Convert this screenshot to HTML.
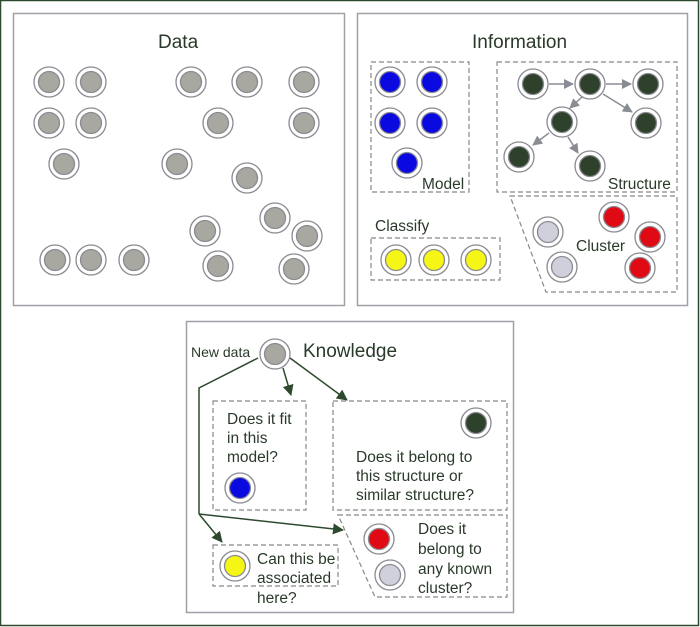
<!DOCTYPE html>
<html><head><meta charset="utf-8"><style>
html,body{margin:0;padding:0;background:#fff;}
svg{display:block;font-family:"Liberation Sans",sans-serif;}
</style></head><body>
<svg width="700" height="627" viewBox="0 0 700 627" xmlns="http://www.w3.org/2000/svg">
<defs>
<marker id="ag" markerWidth="10" markerHeight="10" refX="9" refY="5" orient="auto" markerUnits="userSpaceOnUse"><path d="M0,0 L10,5 L0,10 z" fill="#8a8c94"/></marker>
<marker id="ad" markerWidth="11" markerHeight="11" refX="10" refY="5.5" orient="auto" markerUnits="userSpaceOnUse"><path d="M0,0 L11,5.5 L0,11 z" fill="#2e4a2e"/></marker>
</defs>
<rect x="0.5" y="0.5" width="698" height="625" fill="#fff" stroke="#2e4a2e" stroke-width="1.5"/>
<g fill="#fff" stroke="#a0a0a8" stroke-width="1.5">
<rect x="13.5" y="13.5" width="331" height="292"/>
<rect x="357.5" y="13.5" width="330" height="292"/>
<rect x="186.5" y="321.5" width="327" height="291"/>
</g>
<g fill="#2a3a2a" font-size="19">
<text x="158" y="48">Data</text>
<text x="472" y="48">Information</text>
<text x="303" y="357">Knowledge</text>
</g>
<g fill="none" stroke="#888" stroke-width="1.2" stroke-dasharray="5,3">
<rect x="371" y="62" width="98" height="130"/>
<rect x="497" y="62" width="180" height="130"/>
<path d="M510,196 L677,196 L677,292 L546,292 Z"/>
<rect x="371" y="238" width="129" height="42"/>
<rect x="213" y="401" width="93" height="109"/>
<rect x="333" y="401" width="174" height="109"/>
<path d="M338,515 L507,515 L507,597 L375,597 Z"/>
<rect x="213" y="545" width="125" height="41"/>
</g>
<g stroke="#8a8c94" stroke-width="1.5" fill="none">
<line x1="549" y1="84" x2="573" y2="84" marker-end="url(#ag)"/>
<line x1="606" y1="84" x2="631" y2="84" marker-end="url(#ag)"/>
<line x1="603" y1="94" x2="632" y2="112" marker-end="url(#ag)"/>
<line x1="582" y1="97" x2="570" y2="108" marker-end="url(#ag)"/>
<line x1="549" y1="133" x2="533" y2="145" marker-end="url(#ag)"/>
<line x1="568" y1="137" x2="578" y2="153" marker-end="url(#ag)"/>
</g>
<g stroke="#2e4a2e" stroke-width="1.5" fill="none">
<polyline points="258,358 199,388 199,514"/>
<line x1="199" y1="514" x2="222" y2="542" marker-end="url(#ad)"/>
<line x1="199" y1="514" x2="343" y2="530" marker-end="url(#ad)"/>
<line x1="283" y1="368" x2="291" y2="395" marker-end="url(#ad)"/>
<line x1="290" y1="358" x2="347" y2="400" marker-end="url(#ad)"/>
</g>
<g stroke="#8a8a92" stroke-width="1.3">
<g fill="#fff">
<circle cx="49" cy="82" r="15"/><circle cx="91" cy="82" r="15"/><circle cx="49" cy="123" r="15"/><circle cx="91" cy="123" r="15"/><circle cx="64" cy="164" r="15"/><circle cx="191" cy="82" r="15"/><circle cx="247" cy="82" r="15"/><circle cx="304" cy="82" r="15"/><circle cx="218" cy="123" r="15"/><circle cx="304" cy="123" r="15"/><circle cx="177" cy="164" r="15"/><circle cx="247" cy="178" r="15"/><circle cx="275" cy="218" r="15"/><circle cx="307" cy="236" r="15"/><circle cx="205" cy="231" r="15"/><circle cx="218" cy="266" r="15"/><circle cx="294" cy="269" r="15"/><circle cx="55" cy="260" r="15"/><circle cx="91" cy="260" r="15"/><circle cx="134" cy="260" r="15"/><circle cx="275" cy="354" r="15"/>
</g>
<g fill="#a8a8a0">
<circle cx="49" cy="82" r="10.5"/><circle cx="91" cy="82" r="10.5"/><circle cx="49" cy="123" r="10.5"/><circle cx="91" cy="123" r="10.5"/><circle cx="64" cy="164" r="10.5"/><circle cx="191" cy="82" r="10.5"/><circle cx="247" cy="82" r="10.5"/><circle cx="304" cy="82" r="10.5"/><circle cx="218" cy="123" r="10.5"/><circle cx="304" cy="123" r="10.5"/><circle cx="177" cy="164" r="10.5"/><circle cx="247" cy="178" r="10.5"/><circle cx="275" cy="218" r="10.5"/><circle cx="307" cy="236" r="10.5"/><circle cx="205" cy="231" r="10.5"/><circle cx="218" cy="266" r="10.5"/><circle cx="294" cy="269" r="10.5"/><circle cx="55" cy="260" r="10.5"/><circle cx="91" cy="260" r="10.5"/><circle cx="134" cy="260" r="10.5"/><circle cx="275" cy="354" r="10.5"/>
</g>
<g fill="#fff">
<circle cx="390" cy="82" r="15"/><circle cx="432" cy="82" r="15"/><circle cx="390" cy="123" r="15"/><circle cx="432" cy="123" r="15"/><circle cx="407" cy="163" r="15"/><circle cx="240" cy="488" r="15"/>
<circle cx="533" cy="84" r="15"/><circle cx="590" cy="84" r="15"/><circle cx="648" cy="84" r="15"/><circle cx="562" cy="122" r="15"/><circle cx="646" cy="123" r="15"/><circle cx="519" cy="157" r="15"/><circle cx="590" cy="166" r="15"/><circle cx="476" cy="423" r="15"/>
<circle cx="548" cy="232" r="15"/><circle cx="562" cy="267" r="15"/><circle cx="390" cy="575" r="15"/>
<circle cx="614" cy="217" r="15"/><circle cx="650" cy="237" r="15"/><circle cx="640" cy="268" r="15"/><circle cx="379" cy="539" r="15"/>
<circle cx="396" cy="260" r="15"/><circle cx="434" cy="260" r="15"/><circle cx="476" cy="260" r="15"/><circle cx="235" cy="566" r="15"/>
</g>
<g fill="#0a0ae0">
<circle cx="390" cy="82" r="10.5"/><circle cx="432" cy="82" r="10.5"/><circle cx="390" cy="123" r="10.5"/><circle cx="432" cy="123" r="10.5"/><circle cx="407" cy="163" r="10.5"/><circle cx="240" cy="488" r="10.5"/>
</g>
<g fill="#2e412a">
<circle cx="533" cy="84" r="10.5"/><circle cx="590" cy="84" r="10.5"/><circle cx="648" cy="84" r="10.5"/><circle cx="562" cy="122" r="10.5"/><circle cx="646" cy="123" r="10.5"/><circle cx="519" cy="157" r="10.5"/><circle cx="590" cy="166" r="10.5"/><circle cx="476" cy="423" r="10.5"/>
</g>
<g fill="#d0d0dc">
<circle cx="548" cy="232" r="10.5"/><circle cx="562" cy="267" r="10.5"/><circle cx="390" cy="575" r="10.5"/>
</g>
<g fill="#e00a14">
<circle cx="614" cy="217" r="10.5"/><circle cx="650" cy="237" r="10.5"/><circle cx="640" cy="268" r="10.5"/><circle cx="379" cy="539" r="10.5"/>
</g>
<g fill="#f5f516">
<circle cx="396" cy="260" r="10.5"/><circle cx="434" cy="260" r="10.5"/><circle cx="476" cy="260" r="10.5"/><circle cx="235" cy="566" r="10.5"/>
</g>
</g>
<g fill="#2a3a2a" font-size="15.5">
<text x="422" y="189">Model</text>
<text x="608" y="189">Structure</text>
<text x="576" y="251">Cluster</text>
<text x="375" y="231">Classify</text>
<text x="191" y="357" font-size="14">New data</text>
<text x="227" y="424">Does it fit</text>
<text x="227" y="443">in this</text>
<text x="227" y="462">model?</text>
<text x="356" y="462">Does it belong to</text>
<text x="356" y="481">this structure or</text>
<text x="356" y="500">similar structure?</text>
<text x="418" y="534">Does it</text>
<text x="418" y="554">belong to</text>
<text x="418" y="574">any known</text>
<text x="418" y="593">cluster?</text>
<text x="257" y="564">Can this be</text>
<text x="257" y="583">associated</text>
<text x="257" y="603">here?</text>
</g>
</svg>
</body></html>
